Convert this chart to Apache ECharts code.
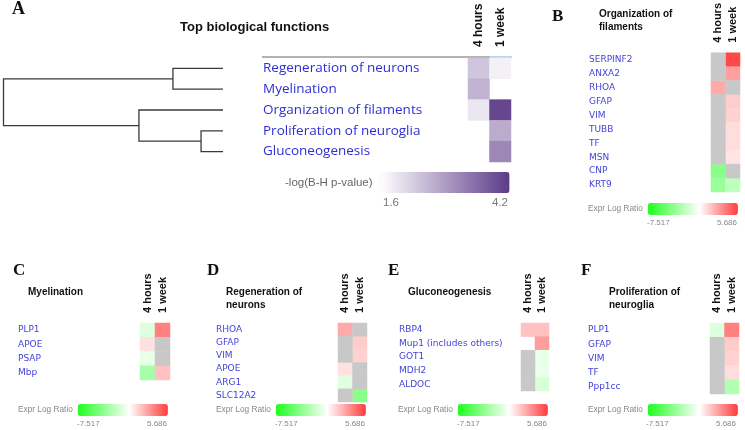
<!DOCTYPE html>
<html><head><meta charset="utf-8">
<script src="https://cdn.jsdelivr.net/npm/echarts@6/dist/echarts.min.js"></script>
<style>html,body{margin:0;padding:0;background:#fff}#c{width:745px;height:430px}</style>
</head><body><div id="c"></div>
<script>
// ---------------- DATA ----------------
const NS = 'ns'; // not significant (grey cell); null = empty cell
const timepoints = ['4 hours', '1 week'];

// Panel A
const functionsA = ['Regeneration of neurons', 'Myelination', 'Organization of filaments', 'Proliferation of neuroglia', 'Gluconeogenesis'];
const pval4h = [2.36, 2.59, 1.92, null, null];
const pval1w = [1.79, null, 4.04, 2.69, 3.18];
const pRange = [1.6, 4.2];
const pTickLabels = ['1.6', '4.2'];
// dendrogram merges: [childA, childB, height]; leaves 0..4, new nodes numbered 5,6,...
const dendroMerges = [[0, 1, 0.228], [3, 4, 0.10], [2, 6, 0.383], [5, 7, 1.0]];

// Expression panels
const exprRange = [-7.517, 5.686];
const exprTickLabels = ['-7.517', '5.686'];

const genesB = ['SERPINF2', 'ANXA2', 'RHOA', 'GFAP', 'VIM', 'TUBB', 'TF', 'MSN', 'CNP', 'KRT9'];
const exprB4h = [NS, NS, 2.5, NS, NS, NS, NS, NS, -3.9, -3.35];
const exprB1w = [5.3, 2.77, NS, 1.5, 1.37, 1.0, 1.0, 0.8, NS, -2.2];

const genesC = ['PLP1', 'APOE', 'PSAP', 'Mbp'];
const exprC4h = [-1.1, 0.9, -0.75, -2.95];
const exprC1w = [3.7, NS, NS, 1.84];

const genesD = ['RHOA', 'GFAP', 'VIM', 'APOE', 'ARG1', 'SLC12A2'];
const exprD4h = [2.5, NS, NS, 0.9, -1.0, NS];
const exprD1w = [NS, 1.5, 1.37, NS, NS, -3.9];

const genesE = ['RBP4', 'Mup1 (includes others)', 'GOT1', 'MDH2', 'ALDOC'];
const exprE4h = [1.84, null, NS, NS, NS];
const exprE1w = [1.84, 2.9, -0.75, -0.7, -1.28];

const genesF = ['PLP1', 'GFAP', 'VIM', 'TF', 'Ppp1cc'];
const exprF4h = [-1.1, NS, NS, NS, NS];
const exprF1w = [3.7, 1.5, 1.37, 1.0, -2.6];

// ---------------- LAYOUT / STYLE ----------------
const exprColors = ['#1eff1e', '#56ff56', '#8eff8e', '#c7ffc7', '#ffffff', '#ffbebe', '#ff7d7d', '#ff3c3c'];
const purpleColors = ['#ffffff', '#5c3a88'];
const GREY = '#c8c8c8';

const panels = [
  { letter: 'B', title: 'Organization of\nfilaments', genes: genesB, v4: exprB4h, v1: exprB1w,
    grid: { left: 711, top: 52, width: 29, height: 140 }, legLeft: 588, legTop: 203, barLeft: 647,
    letterPos: [552, 8], titlePos: [599, 8] },
  { letter: 'C', title: 'Myelination', genes: genesC, v4: exprC4h, v1: exprC1w,
    grid: { left: 140, top: 323, width: 30, height: 57 }, legLeft: 18, legTop: 404, barLeft: 77,
    letterPos: [13, 262], titlePos: [28, 286] },
  { letter: 'D', title: 'Regeneration of\nneurons', genes: genesD, v4: exprD4h, v1: exprD1w,
    grid: { left: 338, top: 323, width: 29, height: 79 }, legLeft: 216, legTop: 404, barLeft: 275,
    letterPos: [207, 262], titlePos: [226, 286] },
  { letter: 'E', title: 'Gluconeogenesis', genes: genesE, v4: exprE4h, v1: exprE1w,
    grid: { left: 521, top: 323, width: 28, height: 68 }, legLeft: 398, legTop: 404, barLeft: 457,
    letterPos: [388, 262], titlePos: [408, 286] },
  { letter: 'F', title: 'Proliferation of\nneuroglia', genes: genesF, v4: exprF4h, v1: exprF1w,
    grid: { left: 710, top: 323, width: 29, height: 71 }, legLeft: 588, legTop: 404, barLeft: 646,
    letterPos: [581, 262], titlePos: [609, 286] }
];

// ---------------- BUILD ----------------
const grids = [], xAxes = [], yAxes = [], series = [], visualMaps = [], graphics = [];

// dendrogram (grid 0)
const nodeY = functionsA.map((_, i) => i);
const nodeH = functionsA.map(() => 0);
dendroMerges.forEach(([a, b, h]) => { nodeY.push((nodeY[a] + nodeY[b]) / 2); nodeH.push(h); });
const dendroData = dendroMerges.map(([a, b, h]) => [nodeY[a], nodeY[b], nodeH[a], nodeH[b], h]);

grids.push({ left: 3.5, top: 58, width: 219.5, height: 104 });
xAxes.push({ gridIndex: 0, type: 'value', min: 0, max: 1, inverse: true, show: false });
yAxes.push({ gridIndex: 0, type: 'value', min: -0.5, max: functionsA.length - 0.5, inverse: true, show: false });
series.push({
  type: 'custom', xAxisIndex: 0, yAxisIndex: 0, data: dendroData, silent: true,
  renderItem: function (params, api) {
    const ya = api.value(0), yb = api.value(1), ha = api.value(2), hb = api.value(3), h = api.value(4);
    return { type: 'polyline',
      shape: { points: [api.coord([ha, ya]), api.coord([h, ya]), api.coord([h, yb]), api.coord([hb, yb])] },
      style: { stroke: '#3a3a3a', lineWidth: 1.3, fill: null } };
  }
});

// heatmap A (grid 1)
grids.push({ left: 468, top: 58, width: 43, height: 104 });
xAxes.push({ gridIndex: 1, type: 'category', data: timepoints, position: 'top',
  axisLine: { show: false }, axisTick: { show: false }, splitLine: { show: false },
  axisLabel: { rotate: -90, margin: 11, interval: 0, fontFamily: 'Liberation Sans', fontWeight: 'bold', fontSize: 12, color: '#111' } });
yAxes.push({ gridIndex: 1, type: 'category', data: functionsA, inverse: true,
  axisLine: { show: false }, axisTick: { show: false }, splitLine: { show: false },
  axisLabel: { align: 'left', margin: 205, interval: 0, fontFamily: 'Open Sans', fontSize: 13.5, color: '#2e2ed6', padding: [4, 0, 0, 0] } });
const dataA = [];
pval4h.forEach((v, i) => { if (v != null) dataA.push([0, i, v]); });
pval1w.forEach((v, i) => { if (v != null) dataA.push([1, i, v]); });
series.push({ type: 'heatmap', xAxisIndex: 1, yAxisIndex: 1, data: dataA, silent: true });
visualMaps.push({ type: 'continuous', seriesIndex: 1, min: pRange[0], max: pRange[1], orient: 'horizontal',
  inRange: { color: purpleColors }, calculable: false, hoverLink: false, padding: 0,
  left: 285, top: 172, itemWidth: 21, itemHeight: 129, text: ['', '-log(B-H p-value)'], textGap: 8,
  textStyle: { color: '#666', fontSize: 11.5, fontFamily: 'Liberation Sans' } });
graphics.push({ type: 'text', left: 383, top: 197, style: { text: pTickLabels[0], fill: '#777', font: '11.5px "Liberation Sans"' } });
graphics.push({ type: 'text', left: 492, top: 197, style: { text: pTickLabels[1], fill: '#777', font: '11.5px "Liberation Sans"' } });

// expression panels
const greySeries = [];
panels.forEach((p, k) => {
  const gi = k + 2;
  grids.push(p.grid);
  xAxes.push({ gridIndex: gi, type: 'category', data: timepoints, position: 'top',
    axisLine: { show: false }, axisTick: { show: false }, splitLine: { show: false },
    axisLabel: { rotate: -90, margin: 10, interval: 0, fontFamily: 'Liberation Sans', fontWeight: 'bold', fontSize: 11, color: '#111' } });
  yAxes.push({ gridIndex: gi, type: 'category', data: p.genes, inverse: true,
    axisLine: { show: false }, axisTick: { show: false }, splitLine: { show: false },
    axisLabel: { align: 'left', margin: 122, interval: 0, fontFamily: 'DejaVu Sans', fontSize: 9, color: '#4343d8' } });
  const vals = [], greys = [];
  [p.v4, p.v1].forEach((arr, xi) => arr.forEach((v, yi) => {
    if (v === NS) greys.push([xi, yi, 0]);
    else if (v != null) vals.push([xi, yi, v]);
  }));
  series.push({ type: 'heatmap', xAxisIndex: gi, yAxisIndex: gi, data: vals, silent: true });
  greySeries.push({ type: 'heatmap', xAxisIndex: gi, yAxisIndex: gi, data: greys, silent: true, itemStyle: { color: GREY } });
  visualMaps.push({ type: 'continuous', seriesIndex: series.length - 1, min: exprRange[0], max: exprRange[1], orient: 'horizontal',
    inRange: { color: exprColors }, calculable: false, hoverLink: false, padding: 0,
    left: p.legLeft, top: p.legTop, itemWidth: 12, itemHeight: 90, text: ['', 'Expr Log Ratio'], textGap: 5,
    textStyle: { color: '#888', fontSize: 8.3, fontFamily: 'Liberation Sans' } });
  graphics.push({ type: 'text', left: p.barLeft, top: p.legTop + 16, style: { text: exprTickLabels[0], fill: '#888', font: '8px "Liberation Sans"' } });
  graphics.push({ type: 'text', right: 745 - (p.barLeft + 90), top: p.legTop + 16, style: { text: exprTickLabels[1], fill: '#888', font: '8px "Liberation Sans"' } });
  graphics.push({ type: 'text', left: p.letterPos[0], top: p.letterPos[1], style: { text: p.letter, fill: '#111', font: 'bold 17px "Liberation Serif"' } });
  graphics.push({ type: 'text', left: p.titlePos[0], top: p.titlePos[1], style: { text: p.title, fill: '#111', font: 'bold 10px "Liberation Sans"', lineHeight: 13 } });
});
greySeries.forEach(s => series.push(s));

// panel A decorations
graphics.push({ type: 'text', left: 12, top: 0, style: { text: 'A', fill: '#111', font: 'bold 18px "Liberation Serif"' } });
graphics.push({ type: 'text', left: 180, top: 21, style: { text: 'Top biological functions', fill: '#111', font: 'bold 13px "Liberation Sans"' } });
graphics.push({ type: 'line', shape: { x1: 262, y1: 57, x2: 490, y2: 57 }, style: { stroke: '#9a9a9a', lineWidth: 1.5 } });
graphics.push({ type: 'line', shape: { x1: 490, y1: 57, x2: 512, y2: 57 }, style: { stroke: '#a8c6ea', lineWidth: 1.5 } });

const chart = echarts.init(document.getElementById('c'), null, { renderer: 'canvas' });
chart.setOption({
  animation: false,
  backgroundColor: '#fff',
  grid: grids, xAxis: xAxes, yAxis: yAxes, series: series, visualMap: visualMaps, graphic: graphics
});
</script></body></html>
